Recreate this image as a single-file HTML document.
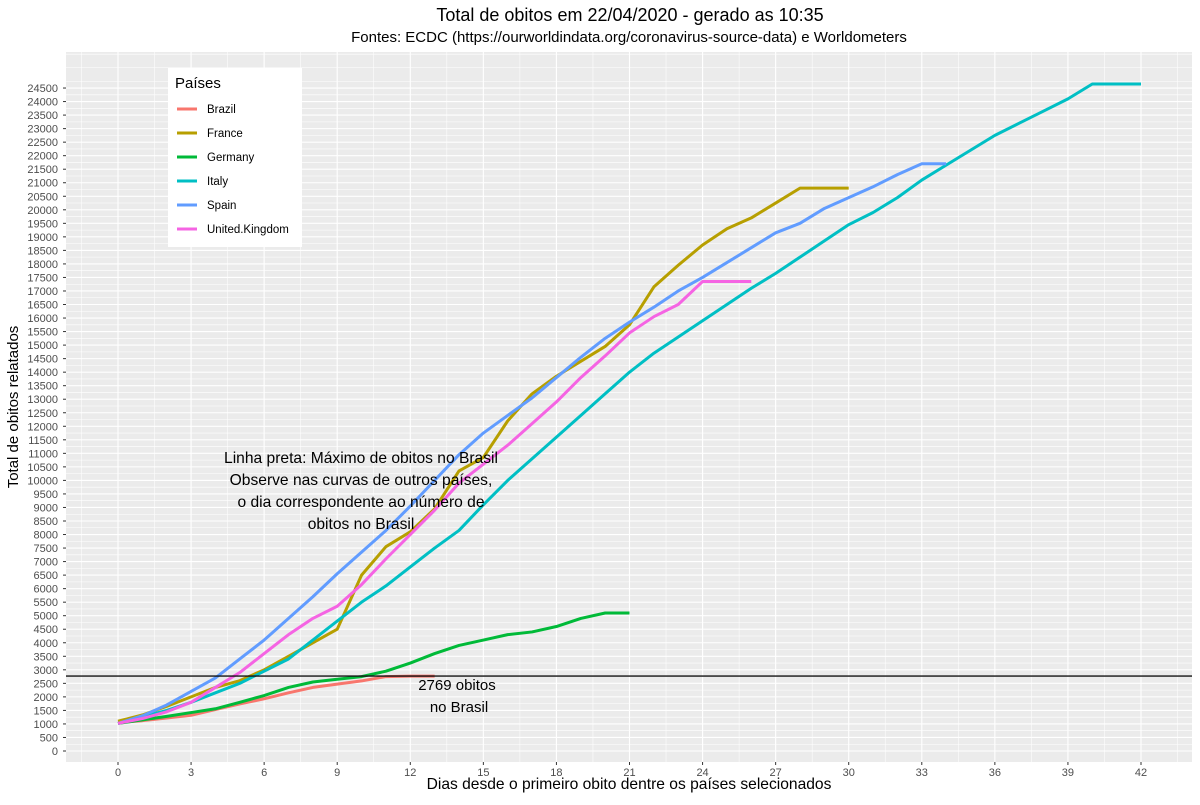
<!DOCTYPE html>
<html><head><meta charset="utf-8"><style>
body{margin:0;background:#fff;font-family:"Liberation Sans",sans-serif}
svg text{font-family:"Liberation Sans",sans-serif}
</style></head><body>
<svg id="c" width="1200" height="800"></svg>
<script>
const days=[...Array(43).keys()];
const brazil=[1050,1120,1220,1320,1530,1740,1930,2150,2350,2470,2590,2750,2769,2769];
const france=[1100,1330,1650,2000,2350,2600,3000,3500,4000,4500,6500,7550,8100,8950,10350,10850,12200,13200,13850,14400,14950,15750,17150,17950,18700,19300,19700,20250,20800,20800,20800];
const germany=[1020,1150,1280,1420,1560,1800,2050,2350,2550,2650,2750,2950,3250,3600,3900,4100,4300,4400,4600,4900,5100,5100];
const italy=[1020,1270,1500,1800,2150,2500,2950,3400,4100,4800,5500,6100,6800,7500,8150,9100,10000,10800,11600,12400,13200,14000,14700,15300,15900,16500,17100,17650,18250,18850,19450,19900,20450,21100,21650,22200,22750,23200,23650,24100,24650,24650,24650];
const spain=[1020,1300,1700,2200,2700,3400,4100,4900,5700,6550,7350,8150,9050,10000,10950,11750,12400,13050,13800,14550,15250,15850,16400,17000,17500,18050,18600,19150,19500,20050,20450,20850,21300,21700,21700];
const uk=[1020,1200,1450,1800,2350,2900,3600,4300,4900,5350,6150,7100,8000,8900,9900,10600,11300,12100,12900,13800,14600,15450,16050,16500,17350,17350,17350];
const brazilMax=2769;
const xTicks=[0,3,6,9,12,15,18,21,24,27,30,33,36,39,42];
const seriesNames=["Brazil","France","Germany","Italy","Spain","United.Kingdom"];
const colors=["#F8766D","#B79F00","#00BA38","#00BFC4","#619CFF","#F564E3"];
const allSeries=[brazil,france,germany,italy,spain,uk];

const NS="http://www.w3.org/2000/svg";
const svg=document.getElementById('c');
const L=66,R=1192,T=52,B=762;
const x=d=>118+d*(1141-118)/42;
const y=v=>751-v/500*13.53;
function mk(tag,attrs,parent){const e=document.createElementNS(NS,tag);for(const k in attrs)e.setAttribute(k,attrs[k]);(parent||svg).appendChild(e);return e;}
const bg=mk('rect',{x:L,y:T,width:R-L,height:B-T,fill:'#EBEBEB'});


for(let v=250;v<26000;v+=500){const yy=y(v);if(yy<T||yy>B)continue;mk('line',{x1:L,x2:R,y1:yy,y2:yy,stroke:'#fff','stroke-width':0.55});}
for(let d=-1.5;d<45;d+=3){const xx=x(d);if(xx<L||xx>R)continue;mk('line',{x1:xx,x2:xx,y1:T,y2:B,stroke:'#fff','stroke-width':0.55});}
const yTickG=mk('g',{});


for(let v=0;v<=24500;v+=500){const yy=y(v);mk('line',{x1:L,x2:R,y1:yy,y2:yy,stroke:'#fff','stroke-width':1.1});
mk('line',{x1:L-3,x2:L,y1:yy,y2:yy,stroke:'#333','stroke-width':1},yTickG);
const t=mk('text',{x:L-8,y:yy+4,'font-size':11,fill:'#4D4D4D','text-anchor':'end'},yTickG);t.textContent=v;}
const xTickG=mk('g',{});


for(const d of xTicks){const xx=x(d);mk('line',{x1:xx,x2:xx,y1:T,y2:B,stroke:'#fff','stroke-width':1.1});
mk('line',{x1:xx,x2:xx,y1:B,y2:B+3,stroke:'#333'},xTickG);
const t=mk('text',{x:xx,y:B+14,'font-size':11,fill:'#4D4D4D','text-anchor':'middle'},xTickG);t.textContent=d;}
allSeries.forEach((s,i)=>{const p=mk('polyline',{points:s.map((v,j)=>x(days[j])+','+y(v)).join(' '),fill:'none',stroke:colors[i],'stroke-width':3,'stroke-linejoin':'round'});

});
const hl=mk('line',{x1:L,x2:R,y1:y(brazilMax),y2:y(brazilMax),stroke:'#111','stroke-width':1.4});


function txt(s,xx,yy,size,anchor,name,extra){const t=mk('text',Object.assign({x:xx,y:yy,'font-size':size,fill:'#000','text-anchor':anchor},extra||{}));t.textContent=s;

return t;}
txt(brazilMax+' obitos',457,690,15,'middle','brazil-max-label');
txt('no Brasil',459,712,15,'middle','brazil-max-label-2');
const ann=["Linha preta: Máximo de obitos no Brasil","Observe nas curvas de outros países,","o dia correspondente ao número de","obitos no Brasil"];
ann.forEach((s,i)=>txt(s,361,463+i*22,15.6,'middle','annotation-line-'+(i+1)));
txt('Total de obitos em 22/04/2020 - gerado as 10:35',630,21,18,'middle','chart-title');
txt('Fontes: ECDC (https://ourworldindata.org/coronavirus-source-data) e Worldometers',629,42,15,'middle','chart-subtitle');
txt('Dias desde o primeiro obito dentre os países selecionados',629,789,15.6,'middle','x-axis-title');
txt('Total de obitos relatados',18,407,15,'middle','y-axis-title',{transform:'rotate(-90 18 407)'});
const lg=mk('g',{});


mk('rect',{x:168,y:68,width:134,height:179,fill:'#fff'},lg);
const lt=mk('text',{x:175,y:88,'font-size':15,fill:'#000'},lg);lt.textContent='Países';
seriesNames.forEach((n,i)=>{const yy=109+i*24;
const g=mk('g',{},lg);


mk('line',{x1:177,x2:197,y1:yy,y2:yy,stroke:colors[i],'stroke-width':3},g);
const t=mk('text',{x:207,y:yy+4,'font-size':11.5,fill:'#000'},g);t.textContent=n;});
</script>
</body></html>
